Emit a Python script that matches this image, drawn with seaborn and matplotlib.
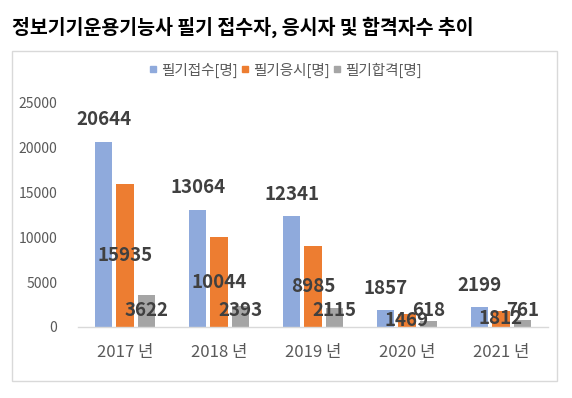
import matplotlib
matplotlib.use("Agg")
import matplotlib.pyplot as plt
import seaborn as sns
import pandas as pd
from matplotlib.lines import Line2D
from matplotlib.patches import Rectangle

years = ["2017 년", "2018 년", "2019 년", "2020 년", "2021 년"]
series = ["필기접수[명]", "필기응시[명]", "필기합격[명]"]
applied = [20644, 13064, 12341, 1857, 2199]
took = [15935, 10044, 8985, 1469, 1812]
passed = [3622, 2393, 2115, 618, 761]
colors = ["#8FAADC", "#ED7D31", "#A5A5A5"]
title = "정보기기운용기능사 필기 접수자, 응시자 및 합격자수 추이"
yticks = [0, 5000, 10000, 15000, 20000, 25000]

sns.set_style("white")
plt.rcParams["font.family"] = ["Noto Sans CJK KR", "DejaVu Sans"]

rows = []
for s, vals in zip(series, [applied, took, passed]):
    for y, v in zip(years, vals):
        rows.append({"year": y, "series": s, "value": v})
df = pd.DataFrame(rows)

W, H = 572, 398
fig = plt.figure(figsize=(W / 100, H / 100), dpi=100)
fig.patch.set_facecolor("white")

# outer box
fig.add_artist(Rectangle((12 / W, 1 - 381 / H), (557 - 12) / W, (381 - 51) / H,
                         transform=fig.transFigure, fill=False,
                         edgecolor="#D9D9D9", linewidth=1.0))

fig.text(12 / W, 1 - 27 / H, title, fontsize=14, fontweight="bold",
         color="#000000", ha="left", va="center")

ax = fig.add_axes([78 / W, 1 - 327 / H, 470 / W, 224 / H])
sns.barplot(data=df, x="year", y="value", hue="series", hue_order=series,
            palette=colors, width=0.68, gap=0.2, ax=ax, legend=False,
            saturation=1, edgecolor="none")

ax.set_ylim(0, 25000)
ax.set_yticks(yticks)
ax.set_yticklabels([str(t) for t in yticks], fontsize=10, color="#595959")
ax.tick_params(axis="y", length=0, pad=15)
ax.tick_params(axis="x", length=0, pad=12, labelsize=12, labelcolor="#595959")
ax.set_xlabel("")
ax.set_ylabel("")
for side in ["top", "right", "left"]:
    ax.spines[side].set_visible(False)
ax.spines["bottom"].set_color("#D9D9D9")
ax.spines["bottom"].set_linewidth(1.0)
ax.set_facecolor("none")

lab_kw = dict(fontsize=13.5, fontweight="bold", color="#404040",
              ha="center", va="center", textcoords="offset points",
              annotation_clip=False)
for i, cont in enumerate(ax.containers):
    for bar in cont:
        h = bar.get_height()
        cx = bar.get_x() + bar.get_width() / 2
        txt = f"{int(round(h))}"
        if i == 0:
            ax.annotate(txt, (cx, h), xytext=(0, 16), **lab_kw)
        elif i == 1:
            ax.annotate(txt, (cx, h / 2), xytext=(0, 0), **lab_kw)
        else:
            ax.annotate(txt, (cx, 0), xytext=(0, 12), **lab_kw)

handles = [Line2D([], [], marker="s", linestyle="none", markersize=5,
                  markerfacecolor=c, markeredgecolor=c) for c in colors]
fig.legend(handles, series, loc="center", bbox_to_anchor=(285 / W, 1 - 70 / H),
           ncol=3, frameon=False, fontsize=10.5, labelcolor="#595959",
           handlelength=0.6, handletextpad=0.25, columnspacing=0.2,
           borderaxespad=0)

fig.savefig("out.png", dpi=100)
